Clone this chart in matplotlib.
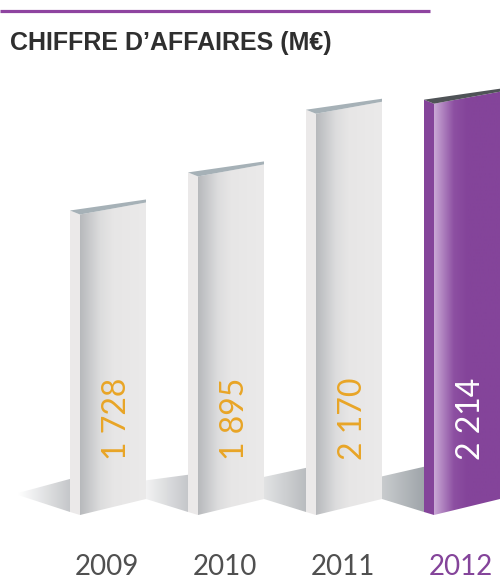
import numpy as np
import matplotlib
matplotlib.use("Agg")
import matplotlib.pyplot as plt
from matplotlib.patches import Polygon
from matplotlib.colors import LinearSegmentedColormap
from matplotlib.transforms import blended_transform_factory

# Data
YEARS = ["2009", "2010", "2011", "2012"]
VALUES = [1728, 1895, 2170, 2214]
VALUE_LABELS = ["1 728", "1 895", "2 170", "2 214"]
HIGHLIGHT = "2012"
TITLE = "CHIFFRE D\u2019AFFAIRES (M\u20ac)"

# Colours
PURPLE = "#84449a"
ORANGE = "#e9a526"
GREY_TEXT = "#505050"

# Layout (pixels)
W_PX, H_PX = 500, 582
STEP_PX = 118          # distance between bars
FIRST_PX = 80          # front face left of first bar
BASE_PX = 515          # front bottom-left edge
PX_PER_UNIT = 0.228    # vertical scale
BASE_VAL = 410         # value sitting on the baseline

fig = plt.figure(figsize=(W_PX / 100, H_PX / 100), dpi=100)
ax = fig.add_axes([0, 0, 1, 1])
ax.axis("off")

x_lo = -FIRST_PX / STEP_PX
x_hi = (W_PX - FIRST_PX) / STEP_PX
y_lo = BASE_VAL - (H_PX - BASE_PX) / PX_PER_UNIT
y_hi = y_lo + H_PX / PX_PER_UNIT


def dx(px):
    return px / STEP_PX


def dy(px):
    return px / PX_PER_UNIT


def grad_fill(verts, colors, stops, z):
    poly = Polygon(verts, closed=True, facecolor="none", edgecolor="none")
    ax.add_patch(poly)
    xs = [v[0] for v in verts]
    ys = [v[1] for v in verts]
    cmap = LinearSegmentedColormap.from_list("g", list(zip(stops, colors)))
    grad = np.linspace(0, 1, 256)[None, :]
    im = ax.imshow(grad, extent=[min(xs), max(xs), min(ys), max(ys)],
                   aspect="auto", cmap=cmap, origin="lower",
                   interpolation="bilinear", zorder=z)
    im.set_clip_path(poly)


W = dx(66)      # front width
D = dx(10)      # side depth
base = BASE_VAL
trans = blended_transform_factory(ax.transData, ax.transAxes)

for i, (year, val) in enumerate(zip(YEARS, VALUES)):
    hl = year == HIGHLIGHT
    bar_px = (val - base) * PX_PER_UNIT

    # shadow on the floor, left of the bar
    sh_r = 0.11 * bar_px
    if i == 0:
        lx = i - dx(62)
        shadow = [(lx, base + dy(20)), (lx, base + dy(22)),
                  (i - D, base + dy(3) + dy(sh_r)), (i - D, base + dy(3))]
        cols = ["#ffffff", "#c4c6c9"]
    else:
        lx = i - 1 + W
        sh_l = 0.055 * bar_px
        shadow = [(lx, base + dy(16)), (lx, base + dy(16) + dy(sh_l)),
                  (i - D, base + dy(3) + dy(sh_r)), (i - D, base + dy(3))]
        cols = {1: ["#f2f2f3", "#c4c6c9"],
                2: ["#e2e3e4", "#b9bcbf"],
                3: ["#c9ccce", "#9ea4a9"]}[i]
    grad_fill(shadow, cols, [0, 1], 1)

    # side face
    side = [(i - D, base + dy(3)), (i, base), (i, val), (i - D, val + dy(4))]
    ax.add_patch(Polygon(side, closed=True, lw=0, zorder=2,
                         facecolor=PURPLE if hl else "#ebe9e9"))

    # front face
    front = [(i, base), (i + W, base + dy(16)), (i + W, val + dy(12)), (i, val)]
    if hl:
        grad_fill(front, ["#caa9d6", "#8d50a2", PURPLE, PURPLE],
                  [0, 0.3, 0.5, 1], 3)
    else:
        grad_fill(front, ["#b7b9bc", "#dcdcdd", "#e7e6e6", "#ebeaea"],
                  [0, 0.3, 0.5, 1], 3)

    # top cap
    cap = [(i - D, val + dy(4)), (i, val), (i + W, val + dy(12)),
           (i + W, val + dy(15))]
    ax.add_patch(Polygon(cap, closed=True, lw=0, zorder=4,
                         facecolor="#4f5357" if hl else "#a6b1b7"))

    # value label inside the bar
    ax.text(i + dx(37), 1 - 460 / H_PX, VALUE_LABELS[i], transform=trans,
            rotation=90, ha="center", va="bottom", fontsize=23,
            color="white" if hl else ORANGE, family="Lato",
            fontweight="normal", zorder=5)

    # year label
    ax.text(i + dx(27), 1 - 567 / H_PX, year, transform=trans,
            ha="center", va="center", fontsize=20,
            color=PURPLE if hl else GREY_TEXT, family="Lato",
            fontweight="normal", zorder=5)

ax.set_xlim(x_lo, x_hi)
ax.set_ylim(y_lo, y_hi)

# header rule and title
ax.plot([0, 430 / W_PX], [1 - 10.5 / H_PX] * 2, transform=ax.transAxes,
        color="#8e44a0", lw=2.3, solid_capstyle="butt")
fig.text(10 / W_PX, 1 - 50 / H_PX, TITLE, ha="left", va="baseline",
         fontsize=18, fontweight="bold", color="#2f2f2f",
         family="Liberation Sans")

fig.savefig("out.png", dpi=100)
